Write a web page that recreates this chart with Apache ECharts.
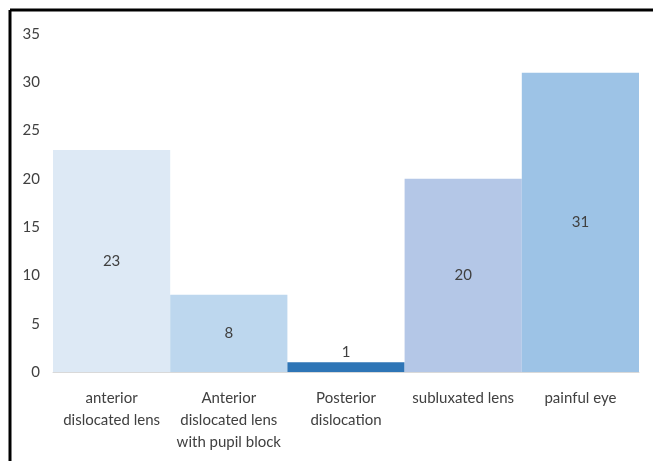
<!DOCTYPE html>
<html>
<head>
<meta charset="utf-8">
<script src="https://cdn.jsdelivr.net/npm/echarts@6/dist/echarts.min.js"></script>
<style>
  html, body { margin: 0; padding: 0; background: #fff; }
  #chart { width: 653px; height: 461px; }
</style>
</head>
<body>
<div id="chart"></div>
<script>
// Presentation categories and patient counts
const categories = [
  'anterior\ndislocated lens',
  'Anterior\ndislocated lens\nwith pupil block',
  'Posterior\ndislocation',
  'subluxated lens',
  'painful eye'
];
const counts = [23, 8, 1, 20, 31];
const barColors = ['#dde9f5', '#bdd7ee', '#2e75b6', '#b4c7e7', '#9dc3e6'];
const yTicks = { min: 0, max: 35, interval: 5 };

const fontFamily = 'Lato, "Open Sans", sans-serif';
const textColor = '#404040';

const chart = echarts.init(document.getElementById('chart'));
chart.setOption({
  animation: false,
  grid: { left: 53, right: 14, top: 34, bottom: 89, containLabel: false },
  graphic: [
    { type: 'line', shape: { x1: 10, y1: 10, x2: 653, y2: 10 }, style: { stroke: '#000', lineWidth: 3 } },
    { type: 'line', shape: { x1: 10, y1: 10, x2: 10, y2: 461 }, style: { stroke: '#000', lineWidth: 3 } }
  ],
  xAxis: {
    type: 'category',
    data: categories,
    axisLine: { show: true, lineStyle: { color: '#d9d9d9', width: 1 } },
    axisTick: { show: false },
    axisLabel: {
      color: textColor, fontFamily, fontSize: 15, lineHeight: 22, margin: 15, interval: 0
    }
  },
  yAxis: {
    type: 'value',
    min: yTicks.min, max: yTicks.max, interval: yTicks.interval,
    splitLine: { show: false },
    axisLine: { show: false },
    axisTick: { show: false },
    axisLabel: { color: textColor, fontFamily, fontSize: 15, margin: 13 }
  },
  series: [{
    type: 'bar',
    barCategoryGap: 0,
    data: counts.map((v, i) => ({
      value: v,
      itemStyle: { color: barColors[i] },
      label: v < 3 ? { position: 'top', distance: 3 } : { position: 'inside' }
    })),
    label: { show: true, color: textColor, fontFamily, fontSize: 15 }
  }]
});
</script>
</body>
</html>
